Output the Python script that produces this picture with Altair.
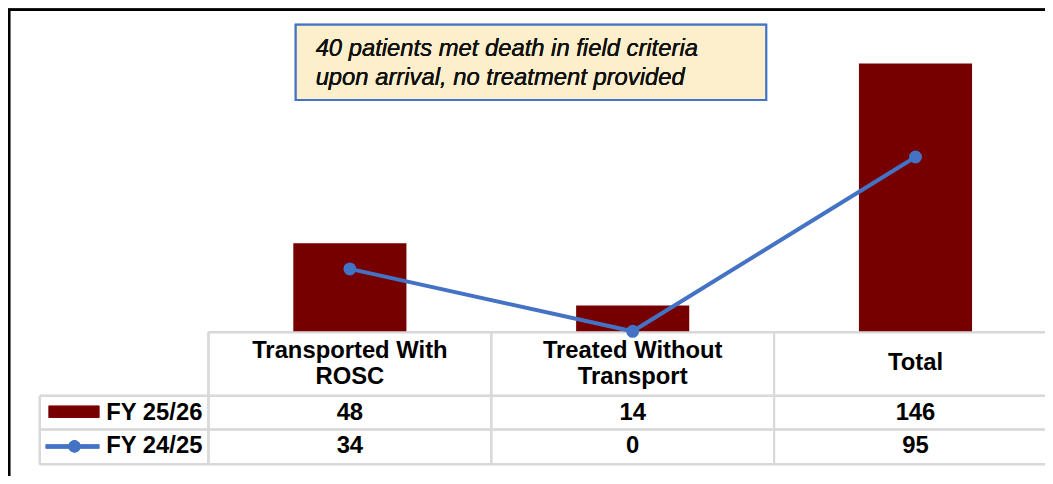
import altair as alt
import pandas as pd

# ---- data ----
categories = ["Transported With ROSC", "Treated Without Transport", "Total"]
header_labels = ["Transported With\nROSC", "Treated Without\nTransport", "Total"]
header_lines = [2, 2, 1]
fy_25_26 = [48, 14, 146]
fy_24_25 = [34, 0, 95]
series_names = ["FY 25/26", "FY 24/25"]
note_lines = ["40 patients met death in field criteria", "upon arrival, no treatment provided"]

df = pd.DataFrame({"cat": categories, "header": header_labels, "nlines": header_lines,
                   "fy2526": fy_25_26, "fy2425": fy_24_25})
long = pd.DataFrame({"cat": categories * 2,
                     "series": [series_names[0]] * 3 + [series_names[1]] * 3,
                     "value": fy_25_26 + fy_24_25})
legend_df = pd.DataFrame({"series": series_names})

# ---- style ----
W, H = 1045, 468
BAR = "#760000"
BLUE = "#4472C4"
GRID = "#D9D9D9"
FONT = "Liberation Sans"
FS = 24

xscale = alt.Scale(domain=categories, range=[202, 1057], paddingInner=0.6, paddingOuter=0.3)
yscale = alt.Scale(domain=[0, 146], range=[324, 54], nice=False, zero=True)
rowscale = alt.Scale(type="point", domain=series_names, range=[406, 440], padding=0)
X = alt.X("cat:N", scale=xscale, axis=None)

base = alt.Chart(df)


def hline(y, x1, x2, color=GRID, w=2):
    return alt.Chart(df).mark_rule(color=color, strokeWidth=w).encode(
        x=alt.value(x1), x2=alt.value(x2), y=alt.value(y))


def vline(x, y1, y2, color=GRID, w=2):
    return alt.Chart(df).mark_rule(color=color, strokeWidth=w).encode(
        x=alt.value(x), y=alt.value(y1), y2=alt.value(y2))


frame = base.mark_rect(fill=None, stroke="black", strokeWidth=2.5).encode(
    x=alt.value(1), x2=alt.value(1200), y=alt.value(0), y2=alt.value(700))

grid = [
    hline(325, 202, 1045),
    hline(389, 32, 1045),
    hline(423, 32, 1045),
    hline(458, 32, 1045),
    vline(32, 389, 458),
    vline(202, 325, 458),
    vline(487, 325, 458),
    vline(772, 325, 458),
]

bars = base.mark_bar(color=BAR).encode(
    x=X, y=alt.Y("fy2526:Q", scale=yscale, axis=None))

line = base.mark_line(color=BLUE, strokeWidth=4).encode(
    x=X, y=alt.Y("fy2425:Q", scale=yscale, axis=None))
pts = base.mark_point(color=BLUE, filled=True, size=170, opacity=1).encode(
    x=X, y=alt.Y("fy2425:Q", scale=yscale, axis=None))

header2 = base.transform_filter("datum.nlines == 2").mark_text(
    font=FONT, fontSize=FS, fontWeight="bold", lineBreak="\n",
    lineHeight=26, baseline="middle", color="black").encode(
    x=X, y=alt.value(344), text="header:N")
header1 = base.transform_filter("datum.nlines == 1").mark_text(
    font=FONT, fontSize=FS, fontWeight="bold",
    baseline="middle", color="black").encode(
    x=X, y=alt.value(356), text="header:N")

values = alt.Chart(long).mark_text(font=FONT, fontSize=FS, fontWeight="bold",
                                   baseline="middle", color="black").encode(
    x=X, y=alt.Y("series:N", scale=rowscale, axis=None), text="value:Q")

legend_labels = alt.Chart(legend_df).mark_text(font=FONT, fontSize=FS, fontWeight="bold",
                                               baseline="middle", align="left",
                                               color="black").encode(
    x=alt.value(99), y=alt.Y("series:N", scale=rowscale, axis=None), text="series:N")

leg_bar = base.mark_rect(color=BAR).encode(
    x=alt.value(41), x2=alt.value(92), y=alt.value(399), y2=alt.value(411))
leg_line = base.mark_rule(color=BLUE, strokeWidth=4).encode(
    x=alt.value(38), x2=alt.value(92), y=alt.value(440))
leg_pt = base.mark_point(color=BLUE, filled=True, size=150, opacity=1).encode(
    x=alt.value(67), y=alt.value(440))

note_box = base.mark_rect(fill="#FDEFCB", stroke=BLUE, strokeWidth=2).encode(
    x=alt.value(290), x2=alt.value(764), y=alt.value(15), y2=alt.value(91))
note_text = base.mark_text(font=FONT, fontSize=FS, fontStyle="italic", align="left",
                           baseline="middle", lineHeight=29, text=note_lines,
                           color="#111111").encode(
    x=alt.value(310), y=alt.value(40))

chart = alt.layer(
    frame, *grid, bars, line, pts, header2, header1, values, legend_labels,
    leg_bar, leg_line, leg_pt, note_box, note_text
).resolve_scale(y="independent").properties(
    width=W, height=H, autosize=alt.AutoSizeParams(type="none"), padding=0
).configure_view(stroke=None)

chart.save("out.html", embed_options={"renderer": "svg", "actions": False})
